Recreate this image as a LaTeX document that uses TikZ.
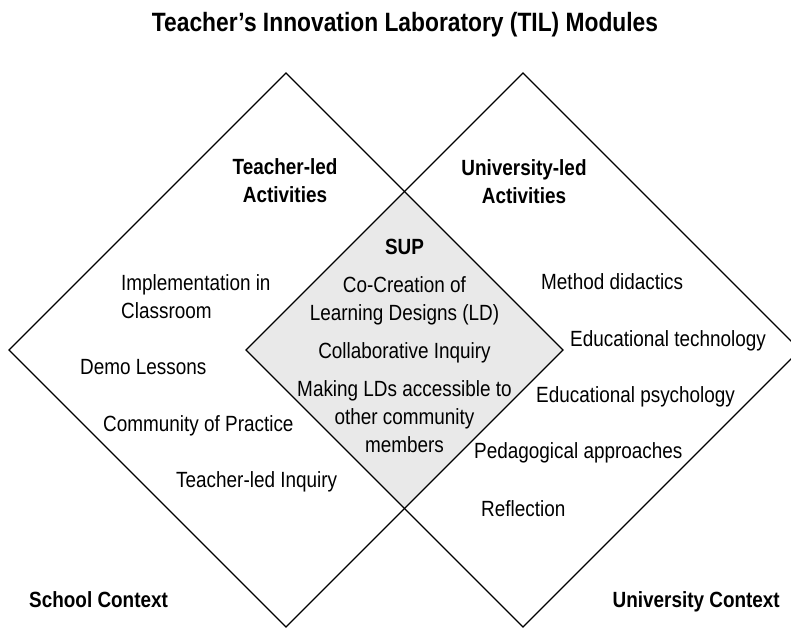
\documentclass[tikz,border=0pt]{standalone}
\usepackage{fontspec}
\setmainfont{Liberation Sans}[FakeStretch=0.86]
\definecolor{supgray}{HTML}{E9E9E9}
\begin{document}
\begin{tikzpicture}[x=1pt,y=-1pt,
  txt/.style={inner sep=0pt, font=\fontsize{22}{28}\selectfont},
  btxt/.style={inner sep=0pt, font=\fontsize{22}{28}\selectfont\bfseries},
  ttl/.style={inner sep=0pt, font=\fontsize{26.5}{32}\selectfont\bfseries},
  frame/.style={draw=black, line width=1.3pt, line join=miter}]
\useasboundingbox (0,0) rectangle (791,628);
\clip (0,0) rectangle (791,628);
\fill[white] (0,0) rectangle (791,628);
% overlap region
\fill[supgray] (246,350) -- (404.5,191.5) -- (563,350) -- (404.5,508.5) -- cycle;
% diamonds
\draw[frame] (9,350) -- (286,73) -- (563,350) -- (286,627) -- cycle;
\draw[frame] (246,350) -- (523,73) -- (800,350) -- (523,627) -- cycle;
% title
\node[ttl, anchor=base] (title) at (405,32) {Teacher’s Innovation Laboratory (TIL) Modules};
% headings (base anchor = baseline of last line)
\node[btxt, anchor=base, align=center] (teacherled) at (285,203) {Teacher-led\\Activities};
\node[btxt, anchor=base, align=center] (univled) at (524,204) {University-led\\Activities};
% centre
\node[btxt, anchor=base] (sup) at (404.5,254) {SUP};
\node[txt, anchor=base, align=center] (cocreation) at (404.5,320) {Co-Creation of\\Learning Designs (LD)};
\node[txt, anchor=base] (collab) at (404.5,358) {Collaborative Inquiry};
\node[txt, anchor=base, align=center] (making) at (404.5,452) {Making LDs accessible to\\other community\\members};
% left
\node[txt, anchor=base west, align=left] (impl) at (121,318) {Implementation in\\Classroom};
\node[txt, anchor=base west] (demo) at (80,374) {Demo Lessons};
\node[txt, anchor=base west] (cop) at (103,431) {Community of Practice};
\node[txt, anchor=base west] (tli) at (176,487) {Teacher-led Inquiry};
% right
\node[txt, anchor=base west] (method) at (541,289) {Method didactics};
\node[txt, anchor=base west] (edtech) at (570,346) {Educational technology};
\node[txt, anchor=base west] (edpsy) at (536,402) {Educational psychology};
\node[txt, anchor=base west] (peda) at (474,458) {Pedagogical approaches};
\node[txt, anchor=base west] (refl) at (481,516) {Reflection};
% contexts
\node[btxt, anchor=base west] (school) at (29,607) {School Context};
\node[btxt, anchor=base east] (univ) at (780,607) {University Context};
\end{tikzpicture}
\end{document}
